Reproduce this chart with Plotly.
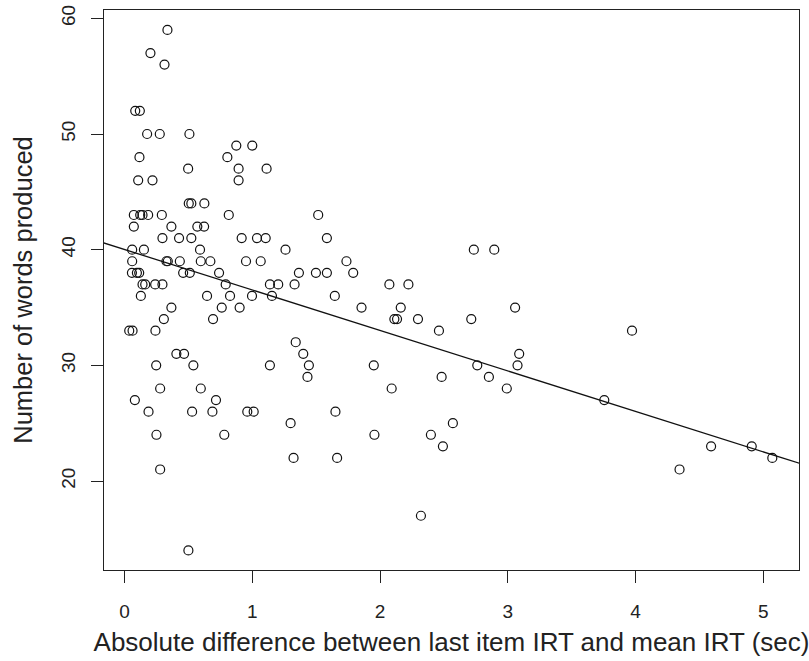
import numpy as np
import plotly.graph_objects as go

# Number of words produced (y) grouped with absolute IRT differences (x)
groups = {
    59: [0.336],
    57: [0.203],
    56: [0.313],
    52: [0.084, 0.120],
    50: [0.177, 0.276, 0.508],
    49: [0.875, 1.000],
    48: [0.117, 0.805],
    47: [0.498, 0.893, 1.112],
    46: [0.107, 0.219, 0.893],
    44: [0.503, 0.523, 0.625],
    43: [0.073, 0.123, 0.141, 0.185, 0.292, 0.816, 1.516],
    42: [0.073, 0.367, 0.570, 0.623],
    41: [0.297, 0.427, 0.523, 0.917, 1.037, 1.105, 1.584],
    40: [0.060, 0.152, 0.591, 1.260, 2.734, 2.894],
    39: [0.060, 0.328, 0.339, 0.433, 0.597, 0.672, 0.951, 1.066, 1.737],
    38: [0.058, 0.097, 0.115, 0.459, 0.511, 0.740, 1.365, 1.498, 1.584, 1.790],
    37: [0.141, 0.162, 0.240, 0.297, 0.792, 1.138, 1.203, 1.331, 2.073, 2.222],
    36: [0.128, 0.646, 0.826, 0.998, 1.154, 1.646],
    35: [0.367, 0.761, 0.901, 1.855, 2.162, 3.057],
    34: [0.308, 0.693, 2.112, 2.133, 2.297, 2.714],
    33: [0.037, 0.063, 0.242, 2.461, 3.972],
    32: [1.340],
    31: [0.406, 0.466, 1.399, 3.089],
    30: [0.248, 0.539, 1.138, 1.443, 1.951, 2.761, 3.076],
    29: [1.432, 2.482, 2.852],
    28: [0.279, 0.597, 2.091, 2.992],
    27: [0.081, 0.716, 3.755],
    26: [0.188, 0.529, 0.688, 0.961, 1.011, 1.651],
    25: [1.300, 2.570],
    24: [0.250, 0.781, 1.956, 2.398],
    23: [2.492, 4.591, 4.909],
    22: [1.323, 1.664, 5.070],
    21: [0.279, 4.344],
    17: [2.320],
    14: [0.500],
}

irt_diff = [x for y, xs in groups.items() for x in xs]
words = [y for y, xs in groups.items() for x in xs]

x_ticks = [0, 1, 2, 3, 4, 5]
y_ticks = [20, 30, 40, 50, 60]
x_title = "Absolute difference between last item IRT and mean IRT (sec)"
y_title = "Number of words produced"

x_range = [-0.1605, 5.279]
y_range = [12.31, 60.72]

slope, intercept = np.polyfit(np.array(irt_diff), np.array(words), 1)
line_x = np.array([x_range[0] - 0.5, x_range[1] + 0.5])
line_y = intercept + slope * line_x

FONT = "Liberation Sans, Arial, Helvetica, sans-serif"
TXT = "#222222"

fig = go.Figure()
fig.add_trace(go.Scatter(
    x=irt_diff, y=words, mode="markers",
    marker=dict(symbol="circle-open", size=9, color="#111111",
                line=dict(width=1.2, color="#111111")),
    showlegend=False, hoverinfo="x+y",
))
fig.add_trace(go.Scatter(
    x=line_x, y=line_y, mode="lines",
    line=dict(color="#111111", width=1.3),
    showlegend=False, hoverinfo="skip",
))

fig.update_layout(
    template="none",
    width=809, height=661,
    margin=dict(l=104, r=10, t=10, b=91, pad=0),
    paper_bgcolor="white", plot_bgcolor="white",
    font=dict(family=FONT, color=TXT, size=19),
    xaxis=dict(
        automargin=False,
        range=x_range, tickvals=x_ticks, ticktext=[str(v) for v in x_ticks],
        showgrid=False, zeroline=False,
        showline=True, mirror=True, linecolor="#222222", linewidth=1,
        ticks="outside", ticklen=12, tickwidth=1, tickcolor="#222222",
        tickfont=dict(size=19, family=FONT, color=TXT),
        ticklabelstandoff=12,
        title=dict(text=x_title, font=dict(size=26, family=FONT, color=TXT), standoff=12),
    ),
    yaxis=dict(
        automargin=False,
        range=y_range, tickvals=y_ticks, ticktext=[str(v) for v in y_ticks],
        showgrid=False, zeroline=False,
        showline=True, mirror=True, linecolor="#222222", linewidth=1,
        ticks="outside", ticklen=12, tickwidth=1, tickcolor="#222222",
        tickangle=-90,
        tickfont=dict(size=19, family=FONT, color=TXT),
        ticklabelstandoff=8,
        title=dict(text=y_title, font=dict(size=25.5, family=FONT, color=TXT), standoff=18),
    ),
)

fig.write_html(
    "out.html",
    config={"displayModeBar": False},
    post_script="document.body.style.margin='0';document.body.style.overflow='hidden';",
)
